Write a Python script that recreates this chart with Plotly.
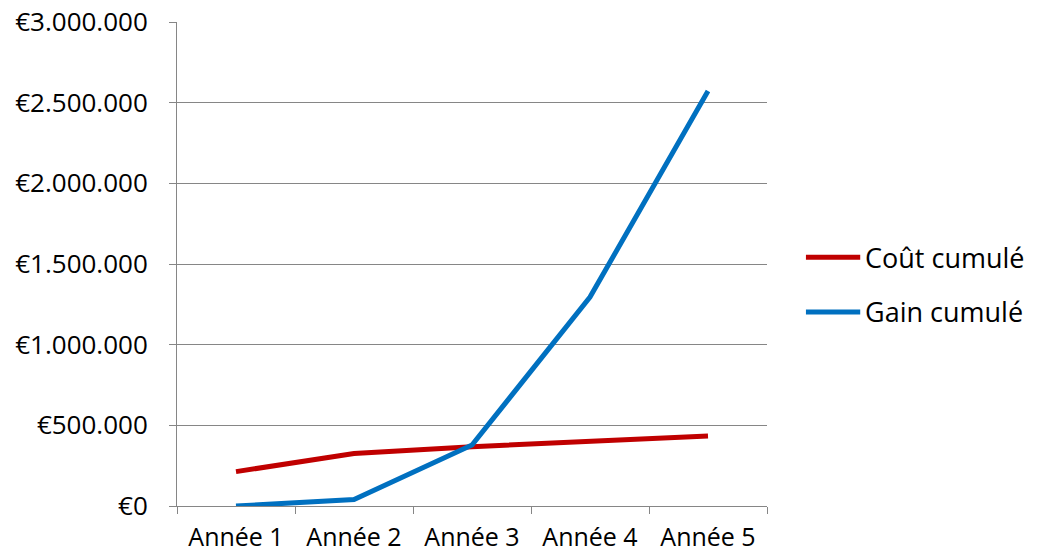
import plotly.graph_objects as go

# Cumulative cost vs cumulative gain per year (EUR)
years = ["Année 1", "Année 2", "Année 3", "Année 4", "Année 5"]
cout_cumule = [213000, 326000, 368000, 400000, 434000]
gain_cumule = [0, 40000, 378000, 1295000, 2572000]

series_names = ["Coût cumulé", "Gain cumulé"]
series_colors = ["#C00000", "#0070C0"]

FONT = "Open Sans"
GRID = "#868686"

fig = go.Figure()
for name, vals, col in zip(series_names, [cout_cumule, gain_cumule], series_colors):
    fig.add_trace(go.Scatter(
        x=years, y=vals, name=name, mode="lines",
        line=dict(color=col, width=5),
        showlegend=False,
    ))

# Legend drawn by hand: a short line and a label for each series
legend_y = [0.514, 0.401]
for name, col, ly in zip(series_names, series_colors, legend_y):
    fig.add_shape(type="line", xref="paper", yref="paper",
                  x0=1.066, x1=1.158, y0=ly, y1=ly,
                  line=dict(color=col, width=5))
    fig.add_annotation(text=name, xref="paper", yref="paper",
                       x=1.162, y=ly, xanchor="left", yanchor="middle",
                       showarrow=False,
                       font=dict(family=FONT, size=27, color="#000000"))

fig.update_layout(
    width=1045, height=553,
    margin=dict(l=177, r=278, t=22, b=47),
    paper_bgcolor="white", plot_bgcolor="white",
    separators=",.",
    font=dict(family=FONT, size=26, color="#000000"),
    showlegend=False,
)
fig.update_xaxes(
    type="category", range=[-0.5, 4.5],
    showline=True, linecolor=GRID, linewidth=1,
    ticks="outside", ticklen=7, tickcolor=GRID, tickwidth=1,
    tickson="boundaries",
    showgrid=False, zeroline=False,
    ticklabelstandoff=9,
    tickfont=dict(size=25),
    automargin=False,
)
fig.update_yaxes(
    range=[0, 3000000], dtick=500000,
    tickprefix="€", tickformat=",d",
    showline=True, linecolor=GRID, linewidth=1,
    ticks="outside", ticklen=7, tickcolor=GRID, tickwidth=1,
    showgrid=True, gridcolor=GRID, gridwidth=1,
    zeroline=False,
    ticklabelstandoff=16,
    automargin=False,
)

fig.write_html("out.html")
